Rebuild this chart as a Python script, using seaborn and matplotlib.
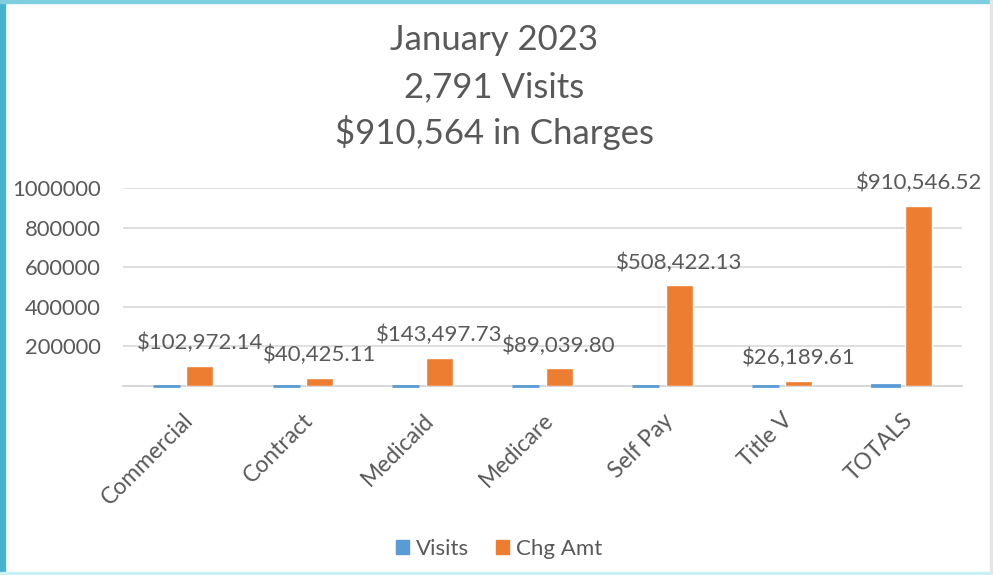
import matplotlib
matplotlib.use("Agg")
import matplotlib.pyplot as plt
import matplotlib.patches as mpatches
import seaborn as sns
import pandas as pd

categories = ["Commercial", "Contract", "Medicaid", "Medicare", "Self Pay", "Title V", "TOTALS"]
visits = [310, 140, 450, 240, 1560, 91, 2791]
chg_amt = [102972.14, 40425.11, 143497.73, 89039.80, 508422.13, 26189.61, 910546.52]
series_names = ["Visits", "Chg Amt"]
yticks = [200000, 400000, 600000, 800000, 1000000]
title_lines = ["January 2023", "2,791 Visits", "$910,564 in Charges"]

BLUE = "#5B9BD5"
ORANGE = "#ED7D31"
TXT = "#595959"
FONT = ["Lato", "DejaVu Sans"]

sns.set_theme(style="white")
plt.rcParams["font.family"] = FONT

df = pd.DataFrame({
    "Category": categories * 2,
    "Series": [series_names[0]] * len(categories) + [series_names[1]] * len(categories),
    "Value": visits + chg_amt,
})

fig = plt.figure(figsize=(9.93, 5.75), dpi=100)
fig.patch.set_facecolor("white")
ax = fig.add_axes([123 / 993, 189 / 575, 839 / 993, 198 / 575])

sns.barplot(data=df, x="Category", y="Value", hue="Series", order=categories,
            hue_order=series_names, palette=[BLUE, ORANGE], width=0.558, gap=0.19,
            saturation=1, legend=False, ax=ax, zorder=3)

# make the tiny visits bars visible as thin lines like the original
for p in ax.containers[0]:
    p.set_edgecolor(BLUE)
    p.set_linewidth(2.0)
    p.set_clip_on(False)

ax.bar_label(ax.containers[1], labels=[f"${v:,.2f}" for v in chg_amt], padding=9,
             fontsize=16, color=TXT, family=FONT)

ax.set_ylim(0, 1000000)
ax.set_xlim(-0.5, len(categories) - 0.5)
ax.set_yticks(yticks)
ax.set_yticklabels([str(t) for t in yticks], fontsize=15.8, color=TXT)
ax.yaxis.grid(True, color="#D9D9D9", linewidth=1.2, zorder=0)
ax.set_axisbelow(True)
for s in ["top", "right", "left"]:
    ax.spines[s].set_visible(False)
ax.spines["bottom"].set_color("#D0D0D0")
ax.spines["bottom"].set_linewidth(1.2)
ax.tick_params(axis="y", length=0, pad=16)
ax.set_xticks(range(len(categories)))
ax.set_xticklabels(categories, rotation=45, ha="right", rotation_mode="anchor",
                   fontsize=16.5, color=TXT)
ax.tick_params(axis="x", length=0, pad=17)
ax.set_xlabel("")
ax.set_ylabel("")

for i, (yy, line) in enumerate(zip([40, 87, 133], title_lines)):
    fig.text(0.4975, 1 - yy / 575, line, ha="center", va="center", fontsize=25, color=TXT)

handles = [mpatches.Patch(color=BLUE, label=series_names[0]),
           mpatches.Patch(color=ORANGE, label=series_names[1])]
fig.legend(handles=handles, loc="center", bbox_to_anchor=(499 / 993, 1 - 549 / 575),
           ncol=2, frameon=False, fontsize=16, labelcolor=TXT, handlelength=0.6,
           handleheight=0.6, handletextpad=0.3, columnspacing=1.2)

# slide frame decorations
fig.patches.append(mpatches.Rectangle((0, 0), 5 / 993, 1, transform=fig.transFigure,
                                      color="#45B3CE", zorder=10))
fig.patches.append(mpatches.Rectangle((0, 1 - 3 / 575), 1, 3 / 575, transform=fig.transFigure,
                                      color="#7FCFE0", zorder=10))
fig.patches.append(mpatches.Rectangle((0, 0), 1, 3 / 575, transform=fig.transFigure,
                                      color="#C8F0F5", zorder=10))
fig.patches.append(mpatches.Rectangle((990 / 993, 0), 3 / 993, 1, transform=fig.transFigure,
                                      color="#E6E6E6", zorder=10))

fig.savefig("out.png", dpi=100)
